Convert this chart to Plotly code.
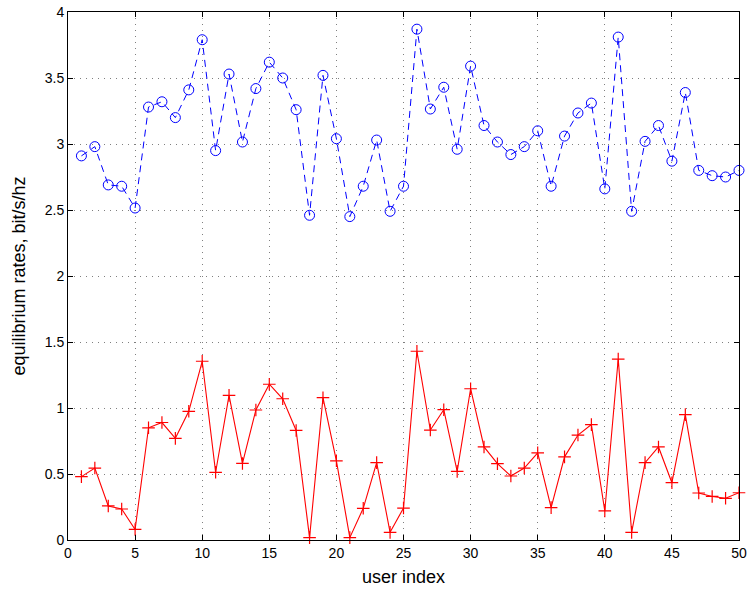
import plotly.graph_objects as go

users = list(range(1, 51))
upper_rates = [2.91, 2.98, 2.69, 2.68, 2.515, 3.28, 3.32, 3.20, 3.41, 3.79,
               2.95, 3.53, 3.015, 3.42, 3.62, 3.50, 3.26, 2.46, 3.52, 3.04,
               2.45, 2.68, 3.03, 2.49, 2.68, 3.87, 3.265, 3.43, 2.96, 3.59,
               3.14, 3.015, 2.92, 2.98, 3.10, 2.68, 3.06, 3.235, 3.31, 2.66,
               3.81, 2.49, 3.02, 3.14, 2.87, 3.39, 2.80, 2.76, 2.75, 2.80]
lower_rates = [0.48, 0.545, 0.258, 0.235, 0.08, 0.85, 0.89, 0.77, 0.975, 1.354,
               0.513, 1.096, 0.58, 0.985, 1.18, 1.07, 0.83, 0.018, 1.078, 0.60,
               0.018, 0.24, 0.586, 0.058, 0.242, 1.43, 0.833, 0.987, 0.52, 1.146,
               0.705, 0.578, 0.485, 0.545, 0.66, 0.245, 0.63, 0.795, 0.874, 0.22,
               1.371, 0.058, 0.586, 0.705, 0.434, 0.95, 0.356, 0.33, 0.316, 0.358]
x_ticks = [0, 5, 10, 15, 20, 25, 30, 35, 40, 45, 50]
y_ticks = [0, 0.5, 1, 1.5, 2, 2.5, 3, 3.5, 4]

FONT = "Liberation Sans, Arial, sans-serif"

fig = go.Figure()
fig.add_trace(go.Scatter(
    x=users, y=upper_rates, mode="lines+markers",
    line=dict(color="#0000ff", width=1, dash="7px,5px"),
    marker=dict(symbol="circle-open", size=10, color="#0000ff", line=dict(width=1)),
    showlegend=False, cliponaxis=False))
fig.add_trace(go.Scatter(
    x=users, y=lower_rates, mode="lines+markers",
    line=dict(color="#ff0000", width=1.1),
    marker=dict(symbol="cross-thin-open", size=9, color="#ff0000", line=dict(width=1.2, color="#ff0000")),
    showlegend=False, cliponaxis=False))

axis_common = dict(
    showline=True, linecolor="black", linewidth=1, mirror="ticks",
    ticks="inside", ticklen=5, tickcolor="black",
    showgrid=True, gridcolor="rgba(0,0,0,0.5)", griddash="1px,5px", gridwidth=1,
    zeroline=False, automargin=False,
    tickfont=dict(family=FONT, size=14, color="black"),
)
fig.update_xaxes(range=[0, 50], tickvals=x_ticks, ticktext=[str(v) for v in x_ticks],
                 title=dict(text="user index", font=dict(family=FONT, size=18, color="black"), standoff=10),
                 **axis_common)
fig.update_yaxes(range=[0, 4], tickvals=y_ticks, ticktext=[("%g" % v) for v in y_ticks],
                 title=dict(text="equilibrium rates, bit/s/hz", font=dict(family=FONT, size=18, color="black"), standoff=14),
                 **axis_common)
fig.update_layout(
    width=751, height=597,
    margin=dict(l=68, r=12, t=12, b=57),
    paper_bgcolor="white", plot_bgcolor="white",
)
fig.write_html("out.html")
